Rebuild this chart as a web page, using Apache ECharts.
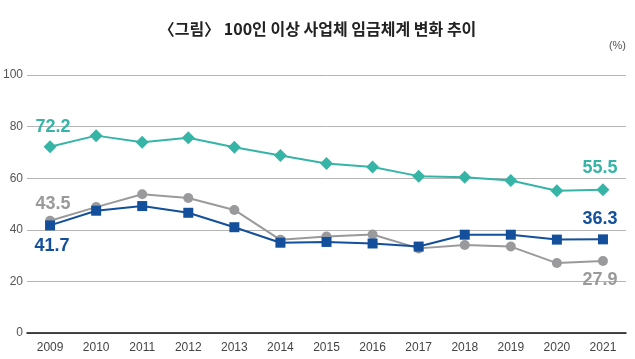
<!DOCTYPE html>
<html><head><meta charset="utf-8">
<script src="https://cdn.jsdelivr.net/npm/echarts@6/dist/echarts.min.js"></script>
<style>html,body{margin:0;padding:0;background:#fff}#c{width:635px;height:359px}</style>
</head><body><div id="c"></div>
<script>
const years = ['2009','2010','2011','2012','2013','2014','2015','2016','2017','2018','2019','2020','2021'];
const tealValues = [72.2,76.5,73.9,75.7,72.0,68.8,65.7,64.3,60.8,60.4,59.1,55.1,55.5];
const grayValues = [43.5,48.8,53.8,52.3,47.7,36.1,37.4,38.2,32.8,34.1,33.5,27.1,27.9];
const blueValues = [41.7,47.4,49.2,46.6,41.0,35.0,35.3,34.7,33.5,38.1,38.1,36.2,36.3];
const yTicks = [0,20,40,60,80,100];

const TEAL = '#36b5a7', GRAY = '#9a9a9c', BLUE = '#134f9b';
const numFont = '"Liberation Sans", Arial, sans-serif';

function withEndLabels(vals, color, firstPos, lastPos, firstOff, lastOff) {
  return vals.map((v, i) => {
    if (i === 0 || i === vals.length - 1) {
      const pos = i === 0 ? firstPos : lastPos;
      const off = i === 0 ? firstOff : lastOff;
      return { value: v, label: { show: true, position: pos, offset: off, distance: 6,
        color: color, fontSize: 18, fontWeight: 'bold', fontFamily: numFont,
        formatter: p => p.value.toFixed(1) } };
    }
    return v;
  });
}

const chart = echarts.init(document.getElementById('c'), null, {renderer: 'canvas'});
chart.setOption({
  animation: false,
  backgroundColor: '#fff',
  title: {
    text: '〈그림〉 100인 이상 사업체 임금체계 변화 추이',
    left: 'center', top: 16,
    textStyle: { fontFamily: '"Noto Sans CJK KR", sans-serif', fontSize: 16, fontWeight: 'bold', color: '#222' }
  },
  graphic: [{
    type: 'text', right: 9, top: 40,
    style: { text: '(%)', fontSize: 11, fill: '#555', fontFamily: numFont }
  }],
  grid: { left: 27, right: 9, top: 75, bottom: 26, containLabel: false },
  xAxis: {
    type: 'category', data: years, boundaryGap: true,
    axisLine: { show: true, lineStyle: { color: '#111', width: 1.5 } },
    axisTick: { show: false },
    axisLabel: { color: '#444', fontSize: 12, fontFamily: numFont, margin: 9 }
  },
  yAxis: {
    type: 'value', min: 0, max: 100, interval: 20,
    axisLine: { show: false }, axisTick: { show: false },
    axisLabel: { color: '#555', fontSize: 12, fontFamily: numFont, margin: 4,
      formatter: v => yTicks.includes(v) ? String(v) : '' },
    splitLine: { lineStyle: { color: '#b4b4b4', width: 1 } }
  },
  series: [
    { name: 'teal', type: 'line', data: withEndLabels(tealValues, TEAL, 'top', 'top', [3, 2], [-3, 0]),
      symbol: 'diamond', symbolSize: 13, lineStyle: { color: TEAL, width: 2 },
      itemStyle: { color: TEAL }, z: 3 },
    { name: 'gray', type: 'line', data: withEndLabels(grayValues, GRAY, 'top', 'bottom', [3, 3], [-3, -1]),
      symbol: 'circle', symbolSize: 10, lineStyle: { color: GRAY, width: 2 },
      itemStyle: { color: GRAY }, z: 2 },
    { name: 'blue', type: 'line', data: withEndLabels(blueValues, BLUE, 'bottom', 'top', [2, 1], [-3, 0]),
      symbol: 'rect', symbolSize: 10, lineStyle: { color: BLUE, width: 2 },
      itemStyle: { color: BLUE }, z: 4 }
  ]
});
</script></body></html>
